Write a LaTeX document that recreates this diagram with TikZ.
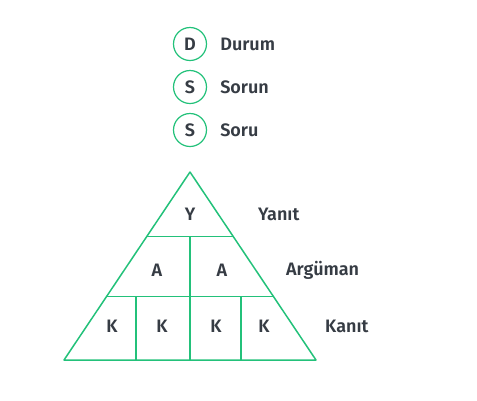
\documentclass[tikz,border=0pt]{standalone}
\usepackage{fontspec}
\setmainfont{Fira Sans}[UprightFont=* SemiBold]
\usepackage{tikz}
\usetikzlibrary{positioning, calc}

\definecolor{tgreen}{HTML}{23C17A}
\definecolor{tgray}{HTML}{363C44}

\begin{document}
\begin{tikzpicture}[x=1pt, y=-1pt, node distance=12pt,
    every node/.style={text=tgray, font=\fontsize{18}{20}\selectfont},
    letter/.style={circle, draw=tgreen, line width=1.2pt, minimum size=33pt, inner sep=0pt},
    caption/.style={anchor=west, inner sep=0pt},
    edge/.style={draw=tgreen, line width=1.5pt, line join=round}]
    \useasboundingbox (0,0) rectangle (477,400);

    % legend
    \node[letter] (durum) at (190,44) {D};
    \node[letter] (sorun) at (190,87) {S};
    \node[letter] (soru) at (190,130) {S};
    \node[caption, right=13pt of durum] (durum_t) {Durum};
    \node[caption, right=13pt of sorun] (sorun_t) {Sorun};
    \node[caption, right=13pt of soru] (soru_t) {Soru};

    % pyramid
    \coordinate (top) at (190,172);
    \coordinate (bl) at (64,360);
    \coordinate (br) at (316,360);
    \coordinate (l1) at ($(top)!0.344!(bl)$);
    \coordinate (r1) at ($(top)!0.344!(br)$);
    \coordinate (l2) at ($(top)!0.663!(bl)$);
    \coordinate (r2) at ($(top)!0.663!(br)$);
    \coordinate (m1) at (190,236.7);
    \coordinate (m0) at (190,360);
    \coordinate (k1) at (136,296.7);
    \coordinate (k1b) at (136,360);
    \coordinate (k3) at (241,296.7);
    \coordinate (k3b) at (241,360);

    \draw[edge] (top) -- (bl) -- (br) -- cycle;
    \draw[edge] (l1) -- (r1);
    \draw[edge] (l2) -- (r2);
    \draw[edge] (m1) -- (m0);
    \draw[edge] (k1) -- (k1b);
    \draw[edge] (k3) -- (k3b);

    \node (y) at (190,214) {Y};
    \node (a1) at (157,270) {A};
    \node (a2) at (222,270) {A};
    \node (ka) at (112,326) {K};
    \node (kb) at (162,326) {K};
    \node (kc) at (216,326) {K};
    \node (kd) at (264,326) {K};

    \node[caption] (yanit) at (258,214) {Yanıt};
    \node[caption] (arguman) at (286,270) {Argüman};
    \node[caption] (kanit) at (325,326) {Kanıt};
\end{tikzpicture}
\end{document}
